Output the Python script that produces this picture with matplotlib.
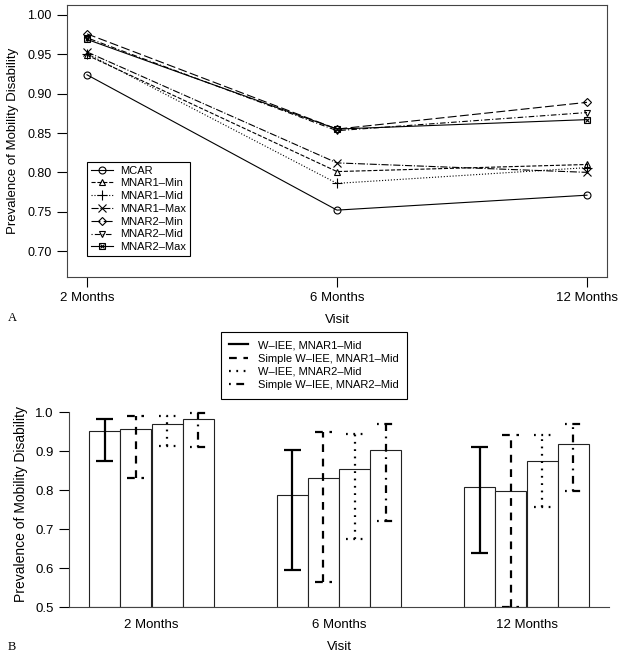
import matplotlib
matplotlib.use("Agg")
import matplotlib.pyplot as plt
import numpy as np

plt.rcParams['font.family'] = ['Liberation Sans', 'DejaVu Sans']

# Panel A: prevalence by visit for each missing-data scenario
visitas = ["2 Months", "6 Months", "12 Months"]
escenarios = ["MCAR", "MNAR1\u2013Min", "MNAR1\u2013Mid", "MNAR1\u2013Max",
              "MNAR2\u2013Min", "MNAR2\u2013Mid", "MNAR2\u2013Max"]
mcar = [0.924, 0.752, 0.771]
mnar1_min = [0.949, 0.801, 0.810]
mnar1_mid = [0.951, 0.786, 0.806]
mnar1_max = [0.953, 0.812, 0.800]
mnar2_min = [0.976, 0.855, 0.889]
mnar2_mid = [0.971, 0.853, 0.876]
mnar2_max = [0.969, 0.855, 0.867]

# Panel B: estimates with intervals, 4 methods per visit
metodos = ["W\u2013IEE, MNAR1\u2013Mid", "Simple W\u2013IEE, MNAR1\u2013Mid",
           "W\u2013IEE, MNAR2\u2013Mid", "Simple W\u2013IEE, MNAR2\u2013Mid"]
est_w1 = [0.951, 0.786, 0.808]
est_s1 = [0.956, 0.830, 0.798]
est_w2 = [0.970, 0.853, 0.875]
est_s2 = [0.983, 0.902, 0.918]
low_w1 = [0.874, 0.595, 0.638]
low_s1 = [0.830, 0.564, 0.500]
low_w2 = [0.914, 0.674, 0.757]
low_s2 = [0.911, 0.720, 0.797]
up_w1 = [0.982, 0.902, 0.909]
up_s1 = [0.990, 0.948, 0.940]
up_w2 = [0.990, 0.944, 0.942]
up_s2 = [0.997, 0.970, 0.969]

fig = plt.figure(figsize=(6.24, 6.53), dpi=100)

# ---------------- panel A ----------------
ax1 = fig.add_axes([67/624, 1-277/653, 540/624, 272/653])
x = np.arange(1, len(visitas) + 1)
series = [mcar, mnar1_min, mnar1_mid, mnar1_max, mnar2_min, mnar2_mid, mnar2_max]
estilos = ['-', '--', ':', '-.', (0, (8, 3)), (0, (1, 2, 5, 2)), '-']
marcas = ['o', '^', '+', 'x', 'D', 'v', 's']
tam = [5, 5, 7, 6, 4.5, 5, 5]
handles = []
for serie, ls, mk, ms, nombre in zip(series, estilos, marcas, tam, escenarios):
    ln, = ax1.plot(x, serie, color='black', lw=0.8, linestyle=ls, marker=mk,
                   markersize=ms, markerfacecolor='none', markeredgewidth=0.8)
    handles.append(ln)
# square with cross for the last scenario
lx, = ax1.plot(x, mnar2_max, linestyle='none', marker='x', color='black',
               markersize=3.5, markeredgewidth=0.8)
handles[-1] = (handles[-1], lx)

ax1.set_xlim(0.92, 3.08)
ax1.set_ylim(0.667, 1.0127)
ax1.set_xticks(x)
ax1.set_xticklabels(visitas, fontsize=9.5)
ax1.set_yticks([0.70, 0.75, 0.80, 0.85, 0.90, 0.95, 1.00])
ax1.set_yticklabels(["%.2f" % v for v in [0.70, 0.75, 0.80, 0.85, 0.90, 0.95, 1.00]], fontsize=9)
ax1.tick_params(length=7, width=0.8, pad=4)
for s in ax1.spines.values():
    s.set_linewidth(0.8)
    s.set_color('#444444')
ax1.set_xlabel("Visit", fontsize=9.5, labelpad=7)
ax1.set_ylabel("Prevalence of Mobility Disability", fontsize=9.5, labelpad=6)
leg1 = ax1.legend(handles, escenarios, loc='lower left', bbox_to_anchor=(0.037, 0.077),
                  borderaxespad=0, fontsize=8, fancybox=False, framealpha=1,
                  edgecolor='black', handlelength=2.0, handletextpad=0.6,
                  labelspacing=0.25, borderpad=0.35)
leg1.get_frame().set_linewidth(0.8)

fig.text(8/624, 1-318/653, "A", family='Liberation Serif', fontsize=9, va='center')

# ---------------- panel B ----------------
ax2 = fig.add_axes([69/624, 1-607/653, 540/624, 207/653])
est = [est_w1, est_s1, est_w2, est_s2]
low = [low_w1, low_s1, low_w2, low_s2]
up = [up_w1, up_s1, up_w2, up_s2]
estilos_b = ['-', (0, (3.5, 3)), (0, (0.8, 2.5)), (0, (0.8, 2.5, 3.5, 2.5))]
ancho = 1.0
centros_grupo = []
for g in range(len(visitas)):
    for j in range(4):
        izq = 2 + 6 * g + j
        c = izq + 0.5
        ax2.bar(c, est[j][g] - 0.5, bottom=0.5, width=ancho, color='white',
                edgecolor='#222222', linewidth=0.8, zorder=2)
    centros_grupo.append(2 + 6 * g + 2)
lineas_b = []
for g in range(len(visitas)):
    for j in range(4):
        c = 2 + 6 * g + j + 0.5
        ax2.vlines(c, low[j][g], up[j][g], colors='black', linewidth=1.6,
                   linestyles=[estilos_b[j]], zorder=3)
        ax2.hlines([low[j][g], up[j][g]], c - 0.27, c + 0.27, colors='black',
                   linewidth=1.6, linestyles=[estilos_b[j]], zorder=3)
        if g == 0:
            lineas_b.append(plt.Line2D([], [], color='black', lw=1.6, linestyle=estilos_b[j]))

ax2.set_xlim(1.36, 18.64)
ax2.set_ylim(0.5, 1.0308)
ax2.set_xticks(centros_grupo)
ax2.set_xticklabels(visitas, fontsize=9.5)
ax2.tick_params(axis='x', length=0, pad=9)
ax2.set_yticks([0.5, 0.6, 0.7, 0.8, 0.9, 1.0])
ax2.set_yticklabels(["%.1f" % v for v in [0.5, 0.6, 0.7, 0.8, 0.9, 1.0]], fontsize=9.5)
ax2.tick_params(axis='y', length=7, width=0.8, pad=4)
ax2.spines['top'].set_visible(False)
ax2.spines['right'].set_visible(False)
ax2.spines['left'].set_bounds(0.5, 1.0)
ax2.spines['left'].set_linewidth(0.8)
ax2.spines['bottom'].set_linewidth(0.8)
ax2.spines['left'].set_color('#444444')
ax2.spines['bottom'].set_color('#444444')
ax2.set_xlabel("Visit", fontsize=9.5, labelpad=7)
ax2.set_ylabel("Prevalence of Mobility Disability", fontsize=10, labelpad=5)

leg2 = fig.legend(lineas_b, metodos, loc='upper left',
                  bbox_to_anchor=(221/624, 1-332/653), borderaxespad=0,
                  fontsize=8, fancybox=False, framealpha=1, edgecolor='black',
                  handlelength=1.7, handletextpad=0.9, labelspacing=0.3,
                  borderpad=0.75)
leg2.get_frame().set_linewidth(0.8)

fig.text(8/624, 1-647/653, "B", family='Liberation Serif', fontsize=9, va='center')

fig.savefig("out.png", dpi=100)
